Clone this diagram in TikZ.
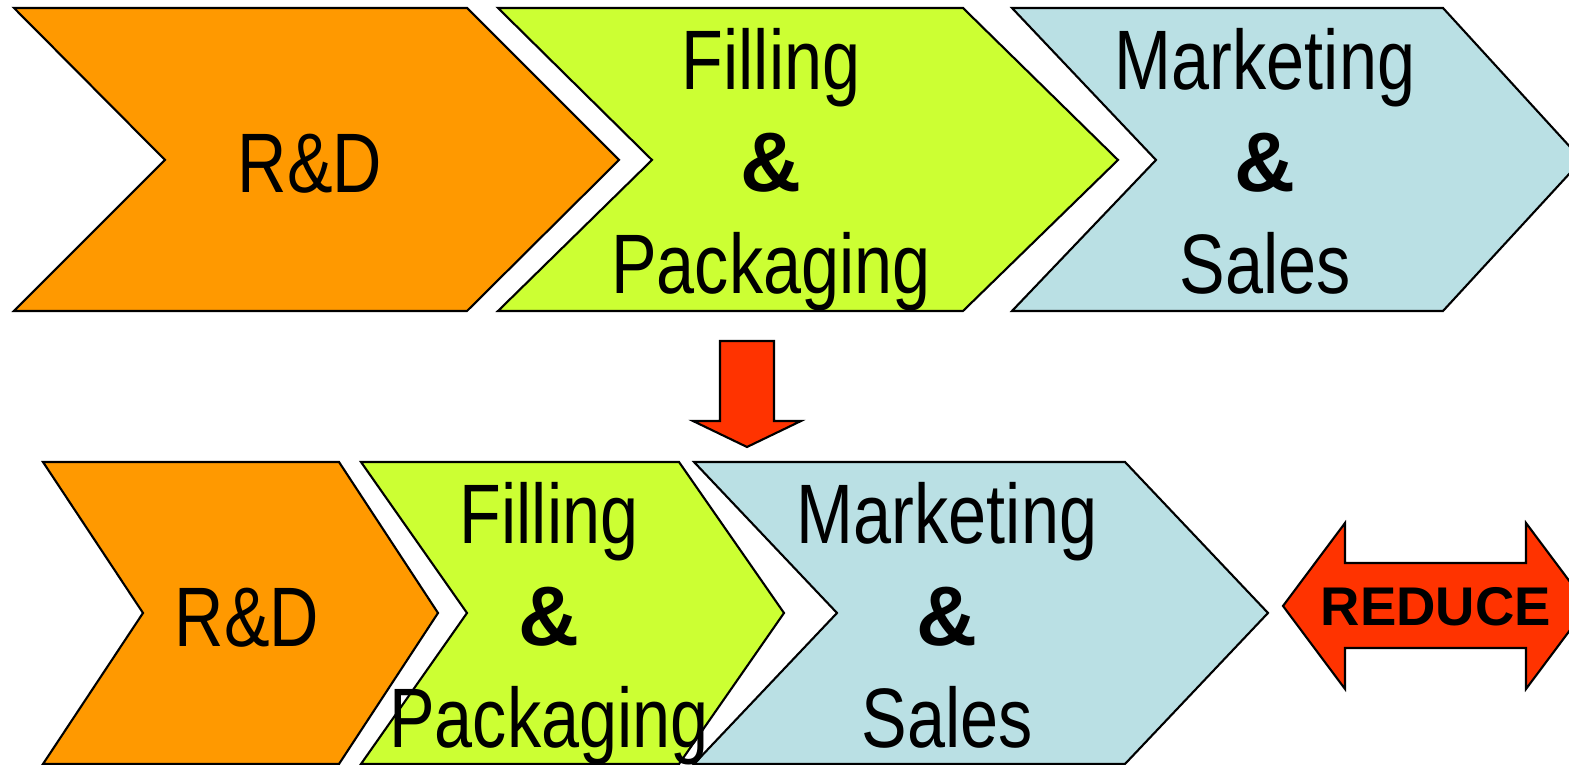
\documentclass[tikz,border=0pt]{standalone}
\usepackage{fontspec}
\setmainfont{Liberation Sans}[FakeStretch=0.81]
\newfontfamily\widefont{Liberation Sans}
\usepackage{tikz}

\definecolor{rdorange}{HTML}{FF9900}
\definecolor{fpgreen}{HTML}{CCFF33}
\definecolor{msblue}{HTML}{BAE0E4}
\definecolor{arrowred}{HTML}{FF3300}

\tikzstyle{stage} = [draw=black, line width=0.6pt, line join=miter]
\tikzstyle{stagetext} = [align=center, inner sep=0pt, font=\fontsize{24}{29}\selectfont]
\newcommand{\amp}{{\widefont\bfseries\&}}

\begin{document}
\begin{tikzpicture}[x=0.01cm, y=-0.01cm]
	\useasboundingbox (0,0) rectangle (1569,765);
	\clip (0,0) rectangle (1569,765);

	% current chain
	\fill[stage, fill=rdorange] (14,8) -- (467,8) -- (619,160) -- (467,311) -- (14,311) -- (165,160) -- cycle;
	\fill[stage, fill=fpgreen] (498,8) -- (963,8) -- (1118,160) -- (963,311) -- (498,311) -- (652,160) -- cycle;
	\fill[stage, fill=msblue] (1012,8) -- (1443,8) -- (1582,160) -- (1443,311) -- (1012,311) -- (1156,160) -- cycle;

	% down arrow
	\fill[stage, fill=arrowred] (720,341) -- (774,341) -- (774,421) -- (801,421) -- (747,447) -- (693,421) -- (720,421) -- cycle;

	% shortened chain
	\fill[stage, fill=rdorange] (43,462) -- (339,462) -- (438,613) -- (339,764) -- (43,764) -- (143,613) -- cycle;
	\fill[stage, fill=fpgreen] (361,462) -- (679,462) -- (784,613) -- (679,764) -- (361,764) -- (467,613) -- cycle;
	\fill[stage, fill=msblue] (694,462) -- (1125,462) -- (1268,613) -- (1125,764) -- (694,764) -- (837,613) -- cycle;

	% double arrow
	\fill[stage, fill=arrowred] (1283,606) -- (1345,523) -- (1345,563) -- (1526,563) -- (1526,523) -- (1588,606)
		-- (1526,689) -- (1526,648) -- (1345,648) -- (1345,689) -- cycle;

	\node[stagetext, anchor=base] (rd1) at (310,193) {R\&D};
	\node[stagetext] (fp1) at (771,170) {Filling\\\amp\\Packaging};
	\node[stagetext] (ms1) at (1265,161) {Marketing\\\amp\\Sales};

	\node[stagetext, anchor=base] (rd2) at (247,647) {R\&D};
	\node[stagetext] (fp2) at (549,624) {Filling\\\amp\\Packaging};
	\node[stagetext] (ms2) at (947,615) {Marketing\\\amp\\Sales};

	\node[inner sep=0pt, font=\widefont\bfseries\fontsize{15.5}{18}\selectfont] (reduce) at (1436,607) {REDUCE};
\end{tikzpicture}
\end{document}
